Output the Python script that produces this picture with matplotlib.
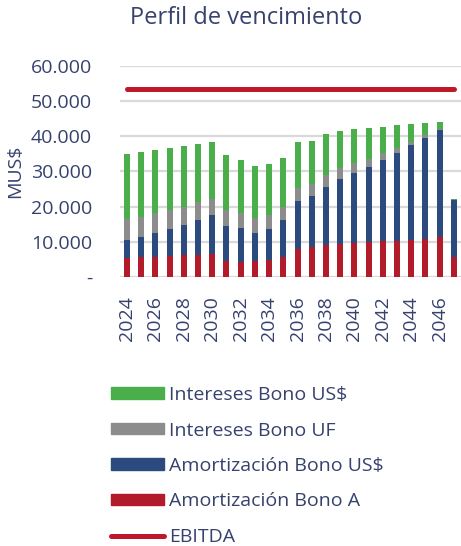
import matplotlib
matplotlib.use("Agg")
import matplotlib.pyplot as plt
from matplotlib.patches import Patch
from matplotlib.lines import Line2D
from matplotlib.ticker import FuncFormatter

years = list(range(2024, 2048))
amort_bono_a = [5.3, 5.6, 5.7, 5.9, 6.2, 6.3, 6.6, 4.5, 4.4, 4.5, 4.7, 5.6,
                8.1, 8.5, 9.0, 9.4, 9.6, 9.9, 10.2, 10.3, 10.6, 10.9, 11.3, 5.6]
amort_bono_usd = [5.2, 5.9, 6.9, 7.8, 8.7, 9.9, 10.9, 10.1, 9.6, 8.1, 9.0, 10.6,
                  13.4, 14.6, 16.7, 18.6, 20.1, 21.5, 23.1, 24.9, 26.8, 28.5, 30.4, 16.2]
int_bono_uf = [5.9, 5.7, 5.5, 5.4, 5.1, 5.0, 4.8, 4.5, 4.3, 4.3, 4.0, 3.8,
               3.8, 3.3, 3.3, 3.0, 2.7, 2.2, 1.9, 1.6, 1.1, 1.0, 0.5, 0.1]
int_bono_usd = [18.6, 18.3, 17.9, 17.6, 17.3, 16.6, 16.2, 15.7, 15.1, 14.6, 14.3, 13.8,
                13.0, 12.4, 11.7, 10.6, 9.7, 8.8, 7.5, 6.4, 5.0, 3.4, 2.0, 0.3]
ebitda = [53.5] * len(years)
scale = 1000.0

legend_labels = ["Intereses Bono US$", "Intereses Bono UF",
                 "Amortización Bono US$", "Amortización Bono A", "EBITDA"]

c_green = "#4aae4a"
c_gray = "#8c8c8c"
c_navy = "#2b4a7e"
c_red = "#b21b29"
c_line = "#c0182b"
c_text = "#36416e"

plt.rcParams['font.family'] = ['Open Sans', 'DejaVu Sans']

fig = plt.figure(figsize=(4.61, 5.46), dpi=100)
ax = fig.add_axes([0.260, 0.4927, 0.740, 0.3864])

x = list(range(len(years)))
w = 0.42
a = [v * scale for v in amort_bono_a]
b = [v * scale for v in amort_bono_usd]
c = [v * scale for v in int_bono_uf]
d = [v * scale for v in int_bono_usd]
bot2 = [a[i] + b[i] for i in x]
bot3 = [bot2[i] + c[i] for i in x]

ax.bar(x, a, w, color=c_red, zorder=3)
ax.bar(x, b, w, bottom=a, color=c_navy, zorder=3)
ax.bar(x, c, w, bottom=bot2, color=c_gray, zorder=3)
ax.bar(x, d, w, bottom=bot3, color=c_green, zorder=3)
ax.plot(x, [v * scale for v in ebitda], color=c_line, lw=3.6,
        solid_capstyle='round', zorder=4)

ax.set_ylim(0, 60000)
ax.set_xlim(-0.5, len(years) - 0.5)
ax.set_yticks(range(0, 60001, 10000))
ax.yaxis.set_major_formatter(FuncFormatter(
    lambda v, p: "-" if v == 0 else f"{int(v):,}".replace(",", ".")))
ax.set_xticks(x[::2])
ax.set_xticklabels([str(y) for y in years[::2]], rotation=90)
ax.grid(axis='y', color='#d9d9d9', lw=1.6, zorder=0)
ax.set_axisbelow(True)
for s in ax.spines.values():
    s.set_visible(False)
ax.tick_params(axis='both', length=0, labelsize=14, colors=c_text)
ax.tick_params(axis='y', pad=20)
ax.tick_params(axis='x', pad=14)
ax.set_ylabel("MUS$", fontsize=14, color=c_text)
ax.yaxis.set_label_coords(-0.28, 0.5)

fig.text(130 / 461, 1 - 18 / 546, "Perfil de vencimiento", fontsize=17,
         color=c_text, ha='left', va='center')

handles = [Patch(color=c_green), Patch(color=c_gray), Patch(color=c_navy),
           Patch(color=c_red),
           Line2D([0], [0], color=c_line, lw=3.6, solid_capstyle='round')]
leg = fig.legend(handles, legend_labels, loc='upper left',
                 bbox_to_anchor=(111 / 461, 1 - 386 / 546), frameon=False,
                 fontsize=14, handlelength=2.7, handleheight=0.55,
                 handletextpad=0.3, labelspacing=0.9, borderpad=0,
                 borderaxespad=0)
for t in leg.get_texts():
    t.set_color(c_text)

fig.savefig("out.png", dpi=100)
